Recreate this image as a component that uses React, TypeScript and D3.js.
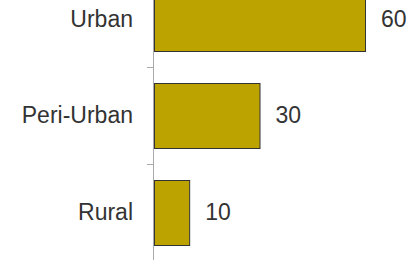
import React from "react";
import * as d3 from "d3";

const categories = ["Urban", "Peri-Urban", "Rural"];
const values = [60, 30, 10];

const W = 414;
const H = 260;

export default function App() {
  const x = d3.scaleLinear().domain([0, 60]).range([154, 365]);
  const y = d3
    .scaleBand<string>()
    .domain(categories)
    .range([-30, 260.3])
    .paddingInner(0.333)
    .paddingOuter(0.1667);
  const step = y.step();
  const r0 = y.range()[0];
  const boundaries = d3.range(1, categories.length).map((i) => r0 + step * i);
  const fontFamily = "'Liberation Sans', Arial, Helvetica, sans-serif";

  return (
    <svg
      width={W}
      height={H}
      style={{ position: "absolute", left: 0, top: 0, background: "#fff" }}
    >
      {boundaries.map((b, i) => (
        <line
          key={"t" + i}
          x1={x(0) - 7}
          x2={x(0)}
          y1={Math.round(b) + 0.5}
          y2={Math.round(b) + 0.5}
          stroke="#aaa"
          strokeWidth={1}
        />
      ))}
      {categories.map((c, i) => {
        const v = values[i];
        const by = y(c)!;
        const bh = y.bandwidth();
        const cy = by + bh / 2;
        return (
          <g key={c}>
            <rect
              x={x(0) + 0.5}
              y={Math.round(by) + 0.5}
              width={x(v) - x(0)}
              height={Math.round(bh)}
              fill="#bca300"
              stroke="#333"
              strokeWidth={1}
            />
            <text
              x={x(0) - 21}
              y={cy}
              dy="0.36em"
              textAnchor="end"
              fontFamily={fontFamily}
              fontSize={23}
              fill="#333"
            >
              {c}
            </text>
            <text
              x={x(v) + 16}
              y={cy}
              dy="0.36em"
              textAnchor="start"
              fontFamily={fontFamily}
              fontSize={23}
              fill="#333"
            >
              {v}
            </text>
          </g>
        );
      })}
      <line
        x1={x(0) - 0.5}
        x2={x(0) - 0.5}
        y1={0}
        y2={H}
        stroke="#aaa"
        strokeWidth={1}
      />
    </svg>
  );
}
